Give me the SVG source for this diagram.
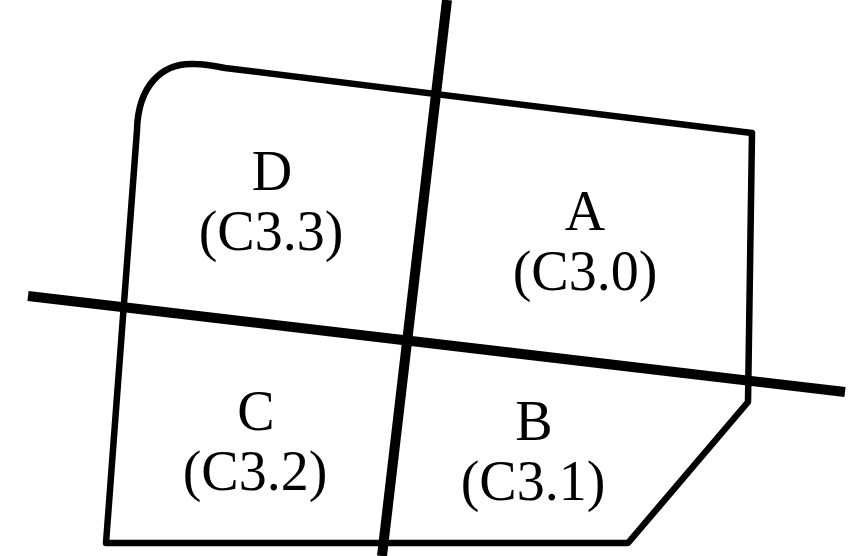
<svg xmlns="http://www.w3.org/2000/svg" width="864" height="556" viewBox="0 0 864 556">
<style>
.outline{fill:none;stroke:#000;stroke-width:6.5;stroke-linejoin:round}
.axis{stroke:#000;stroke-width:10;fill:none}
text{font-family:"Liberation Serif","Times New Roman",serif;font-size:56px;fill:#000;text-anchor:middle}
</style>
<rect width="864" height="556" fill="#fff"/>
<g id="outline">
<path class="outline" d="M 106,543 L 137,130 C 138,88 160,62 195,64 C 205,64 215,66 225,68 L 752,133 L 748,402 L 628,543 Z"/>
</g>
<g id="connectors">
<line class="axis" x1="447" y1="0" x2="382" y2="556"/>
<line class="axis" x1="28" y1="296" x2="845" y2="392"/>
</g>
<g id="D"><text x="272" y="190">D</text><text x="271" y="250">(C3.3)</text></g>
<g id="A"><text x="585" y="230">A</text><text x="585" y="290">(C3.0)</text></g>
<g id="C"><text x="256" y="430">C</text><text x="255" y="490">(C3.2)</text></g>
<g id="B"><text x="534" y="440">B</text><text x="533" y="500">(C3.1)</text></g>
</svg>
